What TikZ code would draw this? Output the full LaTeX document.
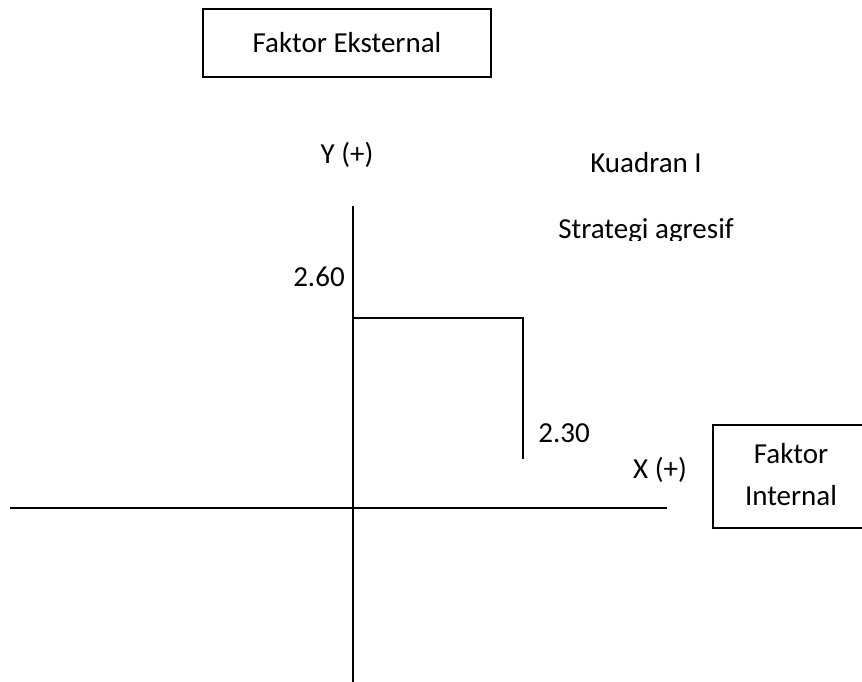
\documentclass[tikz,border=0pt]{standalone}
\usepackage{fontspec}
\setmainfont{Carlito}
\begin{document}
\begin{tikzpicture}[x=1pt,y=-1pt,
  ln/.style={line width=2pt},
  lbl/.style={font=\fontsize{29}{34}\selectfont, inner sep=0pt},
  boxnode/.style={draw, line width=2pt, inner sep=0pt}]
\useasboundingbox (0,0) rectangle (862,682);
\node[boxnode, minimum width=288pt, minimum height=68pt] (ext) at (347,43) {};
\node[lbl] (exttxt) at (347,43) {Faktor Eksternal};
\node[lbl, anchor=base] (ylab) at (347,164) {Y (+)};
\node[lbl, anchor=base] (kuad) at (646,172) {Kuadran I};
\begin{scope}
  \clip (500,200) rectangle (800,240.5);
  \node[lbl, anchor=base] (strat) at (646,238) {Strategi agresif};
\end{scope}
\node[lbl, anchor=base] (v260) at (319,286) {2.60};
\node[lbl, anchor=base] (v230) at (564,442) {2.30};
\node[lbl, anchor=base] (xlab) at (660,478) {X (+)};
\node[boxnode, minimum width=180pt, minimum height=103pt] (int) at (803,476.5) {};
\node[lbl, anchor=base] (inttxt1) at (791,463) {Faktor};
\node[lbl, anchor=base] (inttxt2) at (791,505) {Internal};
\coordinate (ytop) at (353,206);
\coordinate (ybot) at (353,690);
\coordinate (xl) at (10,508);
\coordinate (xr) at (667,508);
\coordinate (p1) at (353,318);
\coordinate (p2) at (523,318);
\coordinate (p3) at (523,459);
\draw[ln] (ytop) -- (ybot);
\draw[ln] (xl) -- (xr);
\draw[ln] (p1) -- (p2) -- (p3);
\end{tikzpicture}
\end{document}
